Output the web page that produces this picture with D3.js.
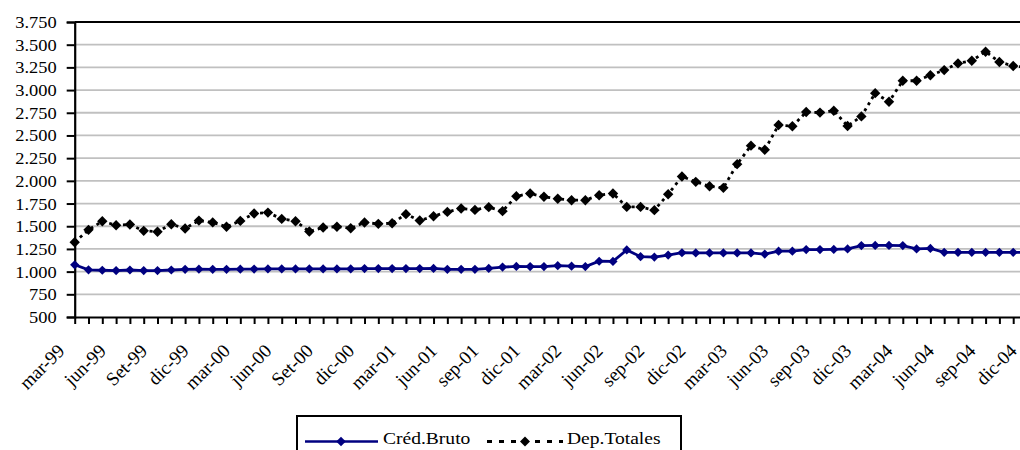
<!DOCTYPE html>
<html>
<head>
<meta charset="utf-8">
<script src="https://cdn.jsdelivr.net/npm/d3@7"></script>
<style>
  body { margin: 0; background: #fff; }
  svg { display: block; }
  text { font-family: "Liberation Serif", "Times New Roman", serif; fill: #000; }
</style>
</head>
<body>
<svg id="chart" width="1020" height="450"></svg>
<script>
// monthly categories, mar-99 .. dic-04
var months = [
  "mar-99","abr-99","may-99","jun-99","jul-99","ago-99","Set-99","oct-99","nov-99","dic-99",
  "ene-00","feb-00","mar-00","abr-00","may-00","jun-00","jul-00","ago-00","Set-00","oct-00","nov-00","dic-00",
  "ene-01","feb-01","mar-01","abr-01","may-01","jun-01","jul-01","ago-01","sep-01","oct-01","nov-01","dic-01",
  "ene-02","feb-02","mar-02","abr-02","may-02","jun-02","jul-02","ago-02","sep-02","oct-02","nov-02","dic-02",
  "ene-03","feb-03","mar-03","abr-03","may-03","jun-03","jul-03","ago-03","sep-03","oct-03","nov-03","dic-03",
  "ene-04","feb-04","mar-04","abr-04","may-04","jun-04","jul-04","ago-04","sep-04","oct-04","nov-04","dic-04"
];

// labels shown on the axis (every third month)
var tickLabels = ["mar-99","jun-99","Set-99","dic-99","mar-00","jun-00","Set-00","dic-00",
  "mar-01","jun-01","sep-01","dic-01","mar-02","jun-02","sep-02","dic-02",
  "mar-03","jun-03","sep-03","dic-03","mar-04","jun-04","sep-04","dic-04"];

var yTicks = [500, 750, 1000, 1250, 1500, 1750, 2000, 2250, 2500, 2750, 3000, 3250, 3500, 3750];

var credBruto = [
  1075,1020,1015,1012,1018,1012,1012,1018,1025,1027,
  1025,1025,1027,1028,1030,1030,1030,1030,1030,1030,1030,1033,
  1033,1033,1033,1033,1035,1025,1025,1025,1035,1050,1057,1055,
  1055,1065,1060,1055,1114,1112,1239,1165,1160,1182,1208,1206,
  1206,1206,1206,1206,1193,1225,1225,1243,1243,1245,1250,1287,
  1289,1289,1287,1250,1255,1212,1212,1212,1212,1212,1212,1212
];

var depTotales = [
  1324,1460,1555,1511,1519,1449,1440,1522,1475,1562,
  1542,1494,1559,1640,1650,1581,1555,1442,1486,1495,1478,1541,
  1526,1533,1633,1563,1610,1658,1695,1680,1710,1666,1831,1860,
  1824,1802,1787,1787,1842,1860,1713,1713,1677,1853,2048,1989,
  1941,1923,2184,2388,2342,2615,2601,2758,2752,2772,2605,2710,
  2966,2871,3103,3103,3163,3220,3294,3323,3423,3310,3265,3250
];

var svg = d3.select("#chart");

var plotLeft = 74.7, plotRight = 1027, plotTop = 22, plotBottom = 317;

var x = d3.scaleLinear().domain([0, months.length - 1]).range([plotLeft, plotRight]);
var y = d3.scaleLinear().domain([500, 3750]).range([plotBottom, plotTop]);

var diamond = function(r) {
  return "M0," + (-r) + "L" + r + ",0L0," + r + "L" + (-r) + ",0Z";
};

// gridlines
svg.append("g")
  .selectAll("line")
  .data(yTicks.filter(function(d) { return d > 500 && d < 3750; }))
  .enter().append("line")
  .attr("x1", plotLeft).attr("x2", plotRight)
  .attr("y1", function(d) { return y(d); })
  .attr("y2", function(d) { return y(d); })
  .style("stroke", "#c0c0c0")
  .style("stroke-width", 1.8);

// plot border (top)
svg.append("line")
  .attr("x1", plotLeft).attr("x2", plotRight)
  .attr("y1", plotTop).attr("y2", plotTop)
  .style("stroke", "#000").style("stroke-width", 2);

// y axis
var yAxis = svg.append("g")
  .attr("transform", "translate(" + plotLeft + ",0)")
  .call(d3.axisLeft(y).tickValues(yTicks).tickSize(8).tickFormat(function(d) {
    return d3.format(",")(d).replace(",", ".");
  }));
yAxis.select(".domain").style("stroke", "#000").style("stroke-width", 2.2);
yAxis.selectAll(".tick line").style("stroke", "#000").style("stroke-width", 2);
yAxis.selectAll(".tick text")
  .attr("x", null)
  .attr("dy", null)
  .attr("transform", "translate(-18,5.5) scale(1.15,1)")
  .style("font-size", "16px")
  .style("font-family", "Liberation Serif");

// x axis
var xAxis = svg.append("g")
  .attr("transform", "translate(0," + plotBottom + ")")
  .call(d3.axisBottom(x).tickValues(d3.range(months.length)).tickSize(7).tickSizeOuter(0).tickFormat(""));
xAxis.select(".domain").style("stroke", "#000").style("stroke-width", 2.2);
xAxis.selectAll(".tick line").style("stroke", "#000").style("stroke-width", 2);

svg.append("g")
  .selectAll("text")
  .data(tickLabels)
  .enter().append("text")
  .attr("transform", function(d, i) {
    return "translate(" + (x(i * 3) - 9) + "," + (plotBottom + 35) + ") rotate(-45)";
  })
  .attr("text-anchor", "end")
  .style("font-size", "19px")
  .text(function(d) { return d; });

// series
var line = d3.line()
  .x(function(d, i) { return x(i); })
  .y(function(d) { return y(d); });

svg.append("path")
  .datum(depTotales)
  .attr("d", line)
  .style("fill", "none")
  .style("stroke", "#000")
  .style("stroke-width", 2.8)
  .style("stroke-dasharray", "3,4");

svg.append("path")
  .datum(credBruto)
  .attr("d", line)
  .style("fill", "none")
  .style("stroke", "#000080")
  .style("stroke-width", 2.8);

svg.append("g")
  .selectAll("path")
  .data(depTotales)
  .enter().append("path")
  .attr("transform", function(d, i) { return "translate(" + x(i) + "," + y(d) + ")"; })
  .attr("d", diamond(5.2))
  .style("fill", "#000");

svg.append("g")
  .selectAll("path")
  .data(credBruto)
  .enter().append("path")
  .attr("transform", function(d, i) { return "translate(" + x(i) + "," + y(d) + ")"; })
  .attr("d", diamond(4.6))
  .style("fill", "#000080");

// legend
var legend = svg.append("g");
legend.append("rect")
  .attr("x", 297).attr("y", 416)
  .attr("width", 384).attr("height", 60)
  .style("fill", "#fff")
  .style("stroke", "#000")
  .style("stroke-width", 2);

var ly = 441.5;
legend.append("line")
  .attr("x1", 305).attr("x2", 378).attr("y1", ly).attr("y2", ly)
  .style("stroke", "#000080").style("stroke-width", 2.5);
legend.append("path")
  .attr("transform", "translate(341," + ly + ")")
  .attr("d", diamond(4.8))
  .style("fill", "#000080");
legend.append("text")
  .attr("transform", "translate(383," + (ly + 2.5) + ") scale(1.15,1)")
  .style("font-size", "17px")
  .text("Créd.Bruto");

legend.append("line")
  .attr("x1", 487).attr("x2", 563).attr("y1", ly).attr("y2", ly)
  .style("stroke", "#000").style("stroke-width", 3)
  .style("stroke-dasharray", "5,7");
legend.append("path")
  .attr("transform", "translate(525," + ly + ")")
  .attr("d", diamond(5))
  .style("fill", "#000");
legend.append("text")
  .attr("transform", "translate(567," + (ly + 2.5) + ") scale(1.15,1)")
  .style("font-size", "17px")
  .text("Dep.Totales");
</script>
</body>
</html>
